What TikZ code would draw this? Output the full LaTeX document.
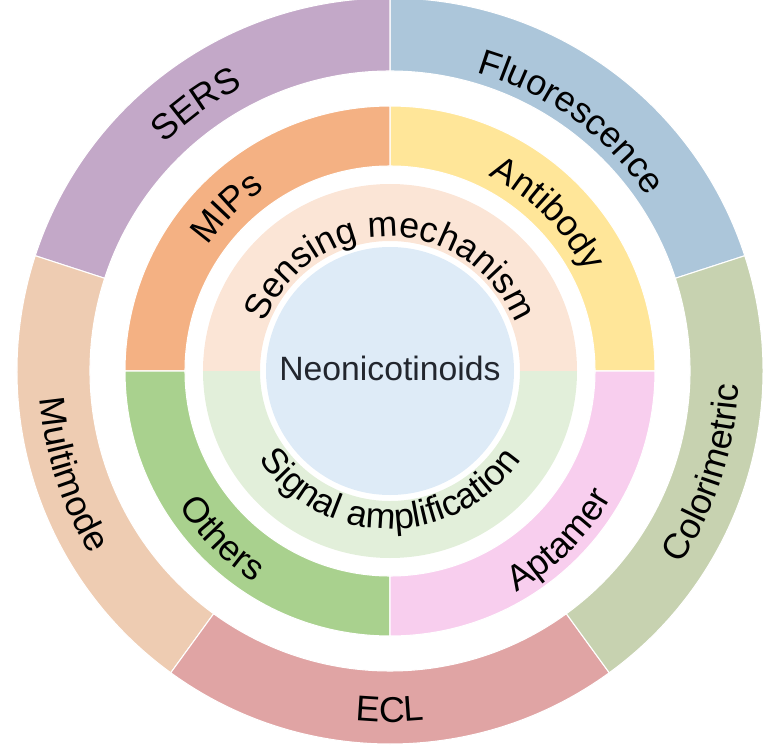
\documentclass[tikz,border=0pt]{standalone}
\usepackage{fontspec}
\setmainfont{Liberation Sans}
\usetikzlibrary{decorations.text}
\definecolor{serscolor}{RGB}{195,168,200}
\definecolor{fluocolor}{RGB}{172,198,218}
\definecolor{colocolor}{RGB}{199,210,176}
\definecolor{eclcolor}{RGB}{224,164,164}
\definecolor{mmcolor}{RGB}{238,204,178}
\definecolor{mipcolor}{RGB}{244,177,131}
\definecolor{abcolor}{RGB}{255,230,153}
\definecolor{aptcolor}{RGB}{248,206,238}
\definecolor{othcolor}{RGB}{169,209,142}
\definecolor{sensecolor}{RGB}{251,229,214}
\definecolor{signalcolor}{RGB}{226,239,218}
\definecolor{neocolor}{RGB}{222,235,247}
\definecolor{neotext}{RGB}{34,38,46}
\newcommand{\lblfont}{\fontsize{20.4}{23}\selectfont}
\newcommand{\neofont}{\fontsize{19.2}{22}\selectfont}

\begin{document}
\begin{tikzpicture}[x=0.02cm,y=0.02cm,
  seg/.style={draw=white,line width=0.6pt},
  curved/.style={decorate,decoration={text along path,text align=center,
                 text/.expanded={|\noexpand\lblfont|#1}}}]
\useasboundingbox (-390,-376) rectangle (373,371);
% outer ring: detection methods
\foreach \a/\b/\c in {18/90/fluocolor,90/162/serscolor,162/234/mmcolor,
                      234/306/eclcolor,306/378/colocolor}{
  \filldraw[seg,fill=\c] (\a:300) arc[start angle=\a,end angle=\b,radius=300]
    -- (\b:373) arc[start angle=\b,end angle=\a,radius=373] -- cycle;}
% middle ring: recognition elements
\foreach \a/\b/\c in {0/90/abcolor,90/180/mipcolor,180/270/othcolor,270/360/aptcolor}{
  \filldraw[seg,fill=\c] (\a:205) arc[start angle=\a,end angle=\b,radius=205]
    -- (\b:265) arc[start angle=\b,end angle=\a,radius=265] -- cycle;}
% inner ring
\foreach \a/\b/\c in {0/180/sensecolor,180/360/signalcolor}{
  \fill[\c] (\a:130) arc[start angle=\a,end angle=\b,radius=130]
    -- (\b:187) arc[start angle=\b,end angle=\a,radius=187] -- cycle;}
\fill[neocolor] (0,0) circle[radius=124];
\node[text=neotext,font=\neofont] (neo) at (0,3) {Neonicotinoids};
% labels, upper half (read clockwise)
\foreach \a/\b/\r/\t in {18/90/311/Fluorescence,90/162/320/SERS,0/90/219/Antibody,
                         90/180/221/MIPs,0/180/134/Sensing mechanism}{
  \path[curved=\t] (\b:\r) arc[start angle=\b,end angle=\a,radius=\r];}
% labels, lower half (read counterclockwise)
\foreach \a/\b/\r/\t in {162/234/351/Multimode,234/306/351/ECL,306/378/349/Colorimetric,
                         180/270/251/Others,270/360/255/Aptamer,180/360/158/Signal amplification}{
  \path[curved=\t] (\a:\r) arc[start angle=\a,end angle=\b,radius=\r];}
\end{tikzpicture}
\end{document}
